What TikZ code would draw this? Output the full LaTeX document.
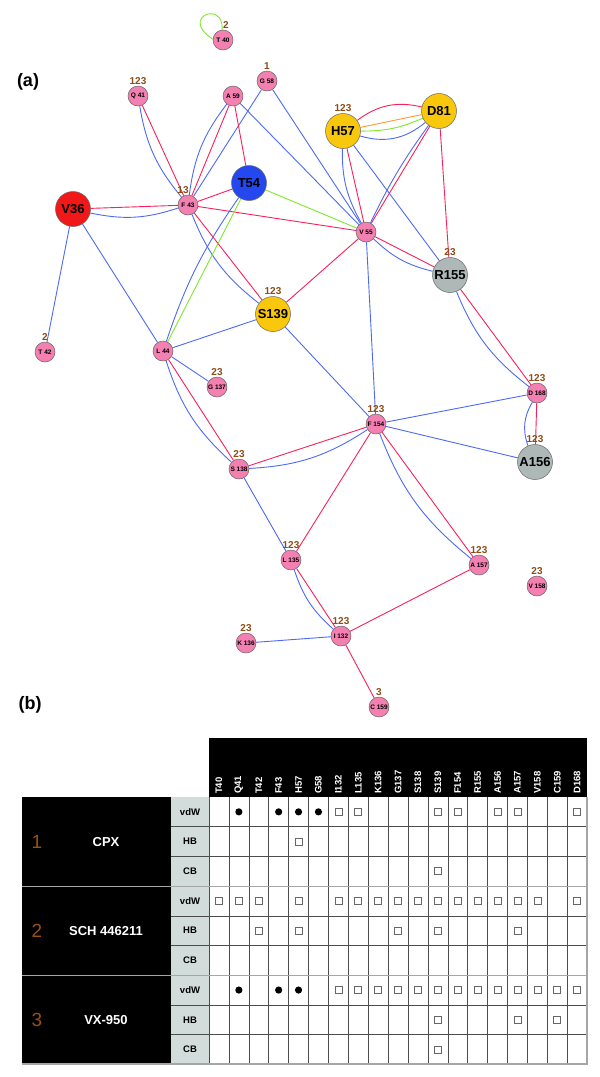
\documentclass[tikz,border=0pt]{standalone}
\usepackage{fontspec}
\setmainfont{Liberation Sans}
\usepackage{xcolor}
\usepackage{tikz}
\usetikzlibrary{
  backgrounds
}
\definecolor{ResPink}{HTML}{F47FB1}
\definecolor{ResRed}{HTML}{F01818}
\definecolor{ResBlue}{HTML}{2447F0}
\definecolor{ResYellow}{HTML}{F9C80C}
\definecolor{ResGray}{HTML}{AEB9B7}
\definecolor{LinkBlue}{HTML}{4D6AF2}
\definecolor{LinkRed}{HTML}{F8205A}
\definecolor{LinkGreen}{HTML}{7DE82C}
\definecolor{LinkOrange}{HTML}{FF9A30}
\definecolor{LabBrown}{HTML}{8E4B16}
\definecolor{RowGray}{HTML}{D2DCDA}
\newcommand\fsz[1]{\fontsize{#1}{#1}\selectfont}

\tikzset{
  every label/.style={font=\fsz{10}\bfseries,text=LabBrown,inner sep=1pt},
  res/.style={circle,draw=black!60,line width=0.5pt,fill=ResPink,
              minimum size=20pt,inner sep=0pt,font=\fsz{6.5}\bfseries,
              label distance=5pt},
  bigres/.style={res,minimum size=35pt,font=\fsz{13}\bfseries},
  panel/.style={font=\fsz{18}\bfseries},
  bluelink/.style={LinkBlue,line width=0.9pt},
  redlink/.style={LinkRed,line width=0.9pt},
  greenlink/.style={LinkGreen,line width=0.9pt},
  orangelink/.style={LinkOrange,line width=0.9pt},
  colhead/.style={font=\fsz{9.5}\bfseries,text=white,rotate=90,anchor=west,inner sep=0pt},
  rowhead/.style={font=\fsz{9.5}\bfseries,inner sep=0pt},
  grouphead/.style={font=\fsz{13}\bfseries,text=white,inner sep=0pt},
  groupnum/.style={font=\fsz{19},text=LabBrown!90!orange,inner sep=0pt},
  gridline/.style={black!70,line width=0.6pt},
  groupline/.style={black!35,line width=1.2pt},
  boxmark/.style={draw=black!60,fill=white,line width=0.6pt}
}

\begin{document}
\begin{tikzpicture}[x=1pt,y=-1pt]
\useasboundingbox (0,0) rectangle (600,1077);

\node[panel] (pa) at (28,82) {(a)};
\node[panel] (pb) at (30,705) {(b)};

% residues
\node[res,label={[xshift=3pt]above:2}] (T40) at (223,40) {T 40};
\node[res,label=above:123] (Q41) at (138,96) {Q 41};
\node[res] (A59) at (233,96) {A 59};
\node[res,label=above:1] (G58) at (267,81) {G 58};
\node[res,label={[xshift=-5pt]above:13}] (F43) at (188,205) {F 43};
\node[res] (V55) at (366,232) {V 55};
\node[res] (L44) at (163,351) {L 44};
\node[res,label=above:2] (T42) at (45,352) {T 42};
\node[res,label=above:23] (G137) at (217,387) {G 137};
\node[res,label=above:23] (S138) at (239,469) {S 138};
\node[res,label=above:123] (F154) at (376,424) {F 154};
\node[res,label=above:123] (D168) at (537,393) {D 168};
\node[res,label=above:123] (L135) at (291,560) {L 135};
\node[res,label=above:123] (A157) at (479,565) {A 157};
\node[res,label=above:23] (V158) at (537,586) {V 158};
\node[res,label=above:123] (I132) at (341,636) {I 132};
\node[res,label=above:23] (K136) at (246,643) {K 136};
\node[res,label=above:3] (C159) at (379,707) {C 159};
\node[bigres,fill=ResRed] (V36) at (73,209) {V36};
\node[bigres,fill=ResBlue] (T54) at (249,183) {T54};
\node[bigres,fill=ResYellow,label=above:123] (H57) at (343,131) {H57};
\node[bigres,fill=ResYellow] (D81) at (439,111) {D81};
\node[bigres,fill=ResGray,label=above:23] (R155) at (450,275) {R155};
\node[bigres,fill=ResYellow,label=above:123] (S139) at (273,314) {S139};
\node[bigres,fill=ResGray,label=above:123] (A156) at (535,462) {A156};

\begin{scope}[on background layer]
  % single links
  \foreach \a/\b in {G58/F43,G58/V55,A59/V55,V36/T42,V36/L44,H57/R155,
                     V55/F154,L44/S139,L44/G137,S139/F154,F154/D168,
                     F154/A156,S138/L135,I132/K136}
    \draw[bluelink] (\a) -- (\b);
  \foreach \a/\b in {A59/T54,F43/T54,F43/V55,D81/R155,V55/S139,F154/L135,
                     I132/A157,I132/C159}
    \draw[redlink] (\a) -- (\b);
  \draw[greenlink] (T54) -- (V55);
  \draw[greenlink] (T40.95) .. controls +(2,-30) and +(-34,-22) .. (T40.175);
  % double links
  \foreach \a/\b in {Q41/F43,A59/F43,V36/F43,F43/S139,H57/V55,V55/R155,
                     R155/D168,S138/F154,L44/S138,F154/A157,L135/I132}{
    \draw[redlink] (\a) -- (\b);
    \draw[bluelink] (\a) to[bend right=15] (\b);
  }
  \draw[redlink] (D168) -- (A156);
  \draw[bluelink] (D168) to[bend right=25] (A156);
  \draw[redlink] (D81) -- (V55);
  \draw[bluelink] (D81) to[bend right=5] (V55);
  \draw[greenlink] (T54) -- (L44);
  \draw[bluelink] (T54) to[bend right=8] (L44);
  \draw[redlink] (H57) to[bend left=25] (D81);
  \draw[orangelink] (H57) -- (D81);
  \draw[greenlink] (H57) to[bend right=12] (D81);
  \draw[bluelink] (H57) to[bend right=28] (D81);
\end{scope}

% table
\fill[black] (209,738) rectangle (587,797);
\foreach \n [count=\i] in {T40,Q41,T42,F43,H57,G58,I132,L135,K136,G137,
                            S138,S139,F154,R155,A156,A157,V158,C159,D168}
  \node[colhead] (col\i) at ({209+(\i-0.5)*19.9},794) {\n};

\fill[black] (22,797) rectangle (171,1064);
\fill[RowGray] (171,797) rectangle (209,1064);
\foreach \r in {1,2,4,5,7,8}
  \draw[gridline] (171,{797+\r*29.7}) -- (587,{797+\r*29.7});
\foreach \c in {0,...,18}
  \draw[gridline] ({209+\c*19.9},797) -- ({209+\c*19.9},1064);
\foreach \r in {3,6}
  \draw[groupline] (22,{797+\r*29.7}) -- (587,{797+\r*29.7});
\draw[groupline] (587,797) -- (587,1064) -- (22,1064);

\foreach \t [count=\r] in {vdW,HB,CB,vdW,HB,CB,vdW,HB,CB}
  \node[rowhead] (row\r) at (190,{797+(\r-0.5)*29.7}) {\t};
\foreach \g/\t in {1/CPX,2/SCH 446211,3/VX-950}{
  \node[groupnum] (num\g) at (37,{797+(3*\g-1.5)*29.7}) {\g};
  \node[grouphead] (grp\g) at (106,{797+(3*\g-1.5)*29.7}) {\t};
}

% contacts
\foreach \r/\cs in {1/{2,4,5,6},7/{2,4,5}}
  \foreach \c in \cs
    \fill ({209+(\c-0.5)*19.9},{797+(\r-0.5)*29.7}) circle (3.6pt);
\foreach \r/\cs in {1/{7,8,12,13,15,16,19},2/{5},3/{12},
                    4/{1,2,3,5,7,8,9,10,11,12,13,14,15,16,17,19},
                    5/{3,5,10,12,16},
                    7/{7,8,9,10,11,12,13,14,15,16,17,18,19},
                    8/{12,16,18},9/{12}}
  \foreach \c in \cs
    \draw[boxmark] ({209+(\c-0.5)*19.9-3.5},{797+(\r-0.5)*29.7-3.5})
      rectangle +(7,7);
\end{tikzpicture}
\end{document}
